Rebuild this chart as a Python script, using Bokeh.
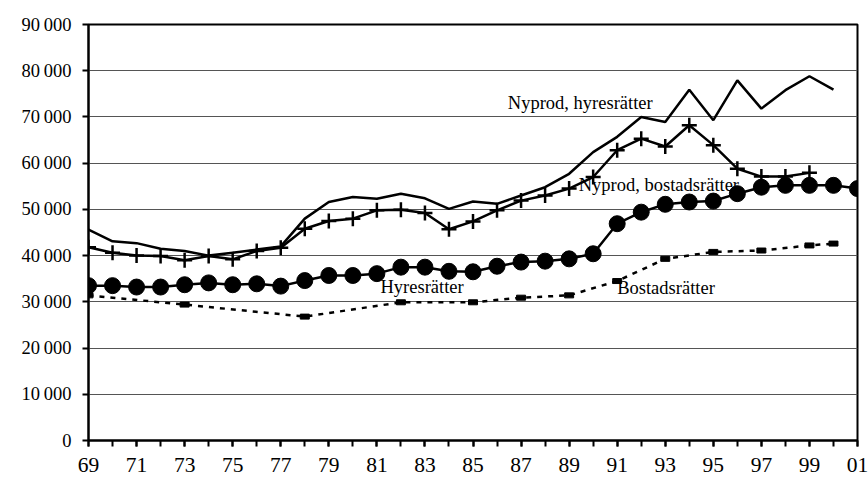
from bokeh.plotting import figure
from bokeh.models import Range1d, FixedTicker, ColumnDataSource
from bokeh.embed import file_html
from bokeh.resources import INLINE
from bokeh.core.properties import value

# ---- data (years 1969-2001) ----
years_hyr = list(range(1969, 2002))
hyresratter = [33500, 33500, 33200, 33200, 33700, 34100, 33700, 33900, 33400, 34600,
               35700, 35700, 36100, 37500, 37500, 36600, 36500, 37700, 38600, 38800,
               39300, 40400, 46900, 49400, 51100, 51600, 51800, 53400, 54800, 55200,
               55200, 55200, 54500]

years_nyb = list(range(1969, 2000))
nyprod_bostad = [41800, 40600, 40000, 39900, 39000, 39900, 39200, 41000, 41700, 45800,
                 47500, 48000, 49800, 49900, 49200, 45700, 47400, 49800, 51900, 53000,
                 54500, 57000, 62800, 65300, 63600, 68200, 63900, 58800, 57100, 57100,
                 57900]

years_nyh = list(range(1969, 2001))
nyprod_hyres = [45600, 43100, 42700, 41500, 41000, 40000, 40600, 41300, 42000, 48000,
                51600, 52700, 52300, 53400, 52400, 50100, 51700, 51200, 53000, 54800,
                57700, 62400, 65700, 70000, 68900, 75900, 69300, 77900, 71800, 75800,
                78800, 75900]

years_bost = [1969, 1973, 1978, 1982, 1985, 1987, 1989, 1991, 1993, 1995, 1997, 1999, 2000]
bostadsratter = [31400, 29400, 26800, 29900, 29900, 30900, 31400, 34500, 39300, 40800,
                 41100, 42200, 42600]

y_ticks = list(range(0, 90001, 10000))
y_tick_labels = ["0" if v == 0 else f"{v // 1000}\u2009000" for v in y_ticks]
x_label_years = list(range(1969, 2002, 2))
x_tick_labels = [f"{y % 100:02d}" for y in x_label_years]

label_texts = ["Nyprod, hyresrätter", "Nyprod, bostadsrätter", "Hyresrätter", "Bostadsrätter"]
label_x = [1986.45, 1989.4, 1981.15, 1991.0]
label_y = [73100, 55200, 33300, 32900]

FONT = "Liberation Serif"

p = figure(width=868, height=482, output_backend="svg", toolbar_location=None,
           x_range=Range1d(1969, 2001), y_range=Range1d(0, 90000),
           min_border_left=88, min_border_top=24, min_border_right=11, min_border_bottom=42)

p.background_fill_color = "white"
p.border_fill_color = "white"
p.outline_line_color = "black"
p.outline_line_width = 2

# axes
p.xaxis.ticker = FixedTicker(ticks=x_label_years, minor_ticks=years_hyr)
p.xaxis.major_label_overrides = {y: t for y, t in zip(x_label_years, x_tick_labels)}
p.yaxis.ticker = FixedTicker(ticks=y_ticks)
p.yaxis.major_label_overrides = {v: t for v, t in zip(y_ticks, y_tick_labels)}

for ax in (p.xaxis, p.yaxis):
    ax.axis_line_width = 2
    ax.axis_line_color = "black"
    ax.major_tick_line_color = "black"
    ax.major_tick_line_width = 2
    ax.major_tick_in = 0
    ax.major_tick_out = 6
    ax.major_label_text_font = FONT
    ax.major_label_text_color = "black"

p.xaxis.major_label_text_font_size = "21.5px"
p.yaxis.major_label_text_font_size = "18.5px"

p.xaxis.minor_tick_line_color = "black"
p.xaxis.minor_tick_line_width = 2
p.xaxis.minor_tick_in = 0
p.xaxis.minor_tick_out = 6
p.xaxis.major_label_standoff = 11
p.yaxis.minor_tick_line_color = None
p.yaxis.major_label_standoff = 11

p.xgrid.grid_line_color = None
p.ygrid.grid_line_color = "#555555"
p.ygrid.grid_line_width = 1

# series
p.line(years_bost, bostadsratter, line_color="black", line_width=2.5, line_dash="5 6")
p.rect(years_bost, bostadsratter, width=9, height=5, width_units="screen",
       height_units="screen", fill_color="black", line_color="black")

p.line(years_nyh, nyprod_hyres, line_color="black", line_width=2.5)

p.line(years_nyb, nyprod_bostad, line_color="black", line_width=2.5)
p.scatter(years_nyb, nyprod_bostad, marker="cross", size=15, line_color="black", line_width=2.5)

p.line(years_hyr, hyresratter, line_color="black", line_width=2.5)
p.scatter(years_hyr, hyresratter, marker="circle", size=16, fill_color="black", line_color="black")

src = ColumnDataSource(dict(x=label_x, y=label_y, t=label_texts))
p.text(x="x", y="y", text="t", source=src, text_font=value(FONT), text_font_size="18.5px",
       text_color="black", text_align="left", text_baseline="middle")

open("out.html", "w").write(file_html(p, INLINE))
